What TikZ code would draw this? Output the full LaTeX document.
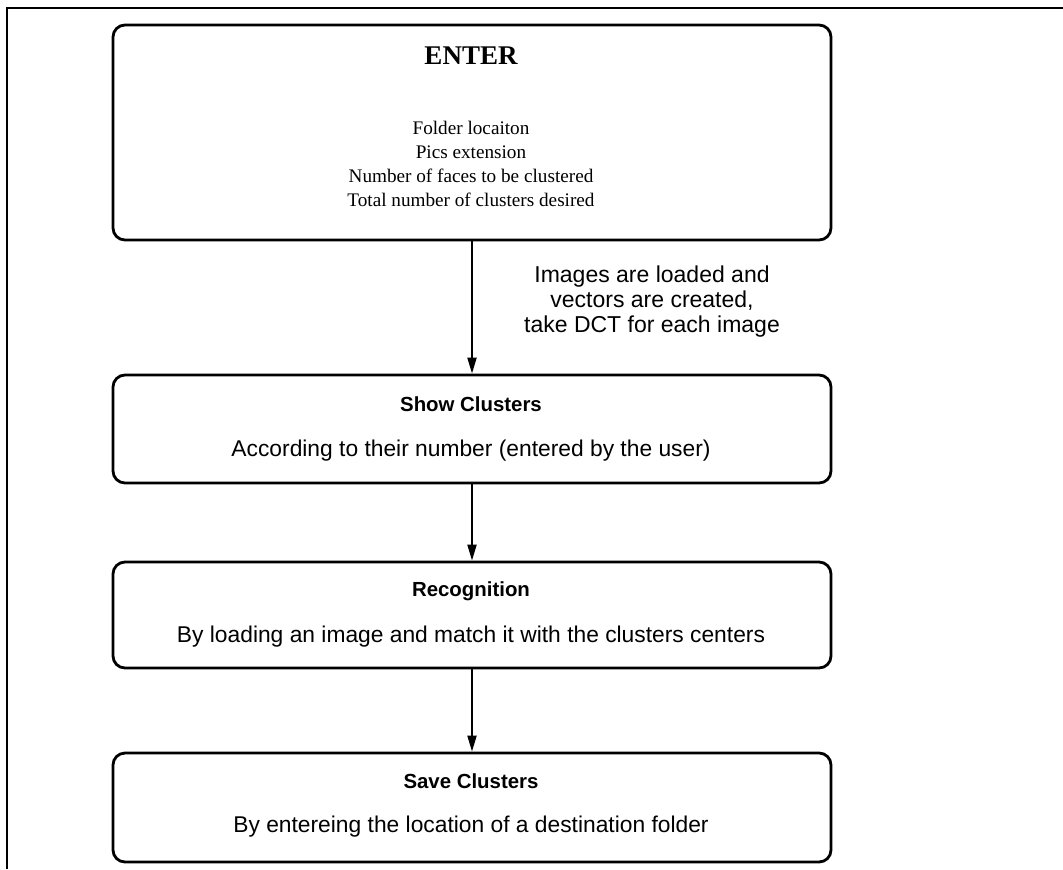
\documentclass[tikz,border=0pt]{standalone}
\usepackage{fontspec}
\setmainfont{Liberation Serif}
\newfontfamily\arialf{Liberation Sans}
\usetikzlibrary{arrows.meta}
\begin{document}
\begin{tikzpicture}[x=0.5pt,y=-0.5pt,
  box/.style={draw, line width=1.4pt, rounded corners=6pt, minimum width=359pt, inner sep=0pt},
  flow/.style={draw, line width=1pt, -{Triangle[length=8pt,width=4.5pt]}},
  sertxt/.style={font=\fontsize{9.6}{12}\selectfont, align=center, inner sep=0pt},
  sertitle/.style={font=\fontsize{13.5}{15}\selectfont\bfseries, inner sep=0pt},
  santitle/.style={font=\arialf\fontsize{10.2}{12}\selectfont\bfseries, inner sep=0pt},
  santxt/.style={font=\arialf\fontsize{11.4}{13.25}\selectfont, align=center, inner sep=0pt},
  lbltxt/.style={font=\arialf\fontsize{11.5}{12.5}\selectfont, align=center, inner sep=0pt}]
\useasboundingbox (0,0) rectangle (1063,869);
\draw[line width=1pt] (1063,8) -- (7,8) -- (7,869);
% boxes
\node[box, minimum height=107.5pt] (b1) at (472,132.5) {};
\node[box, minimum height=54pt] (b2) at (472,429) {};
\node[box, minimum height=53pt] (b3) at (472,615) {};
\node[box, minimum height=54.5pt] (b4) at (472,807.5) {};
% texts
\node[sertitle] (t1) at (471,56) {ENTER};
\node[sertxt] (d1) at (471,164) {Folder locaiton\\Pics extension\\Number of faces to be clustered\\Total number of clusters desired};
\node[santitle] (t2) at (471,404) {Show Clusters};
\node[santxt] (d2) at (471,451) {According to their number (entered by the user)};
\node[santitle] (t3) at (471,591) {Recognition};
\node[santxt] (d3) at (471,637) {By loading an image and match it with the clusters centers};
\node[santitle] (t4) at (471,781) {Save Clusters};
\node[santxt] (d4) at (471,827) {By entereing the location of a destination folder};
% connectors
\draw[flow] (b1.south) -- (b2.north);
\draw[flow] (b2.south) -- (b3.north);
\draw[flow] (b3.south) -- (b4.north);
\node[lbltxt] (l1) at (652,302) {Images are loaded and\\vectors are created,\\take DCT for each image};
\end{tikzpicture}
\end{document}
